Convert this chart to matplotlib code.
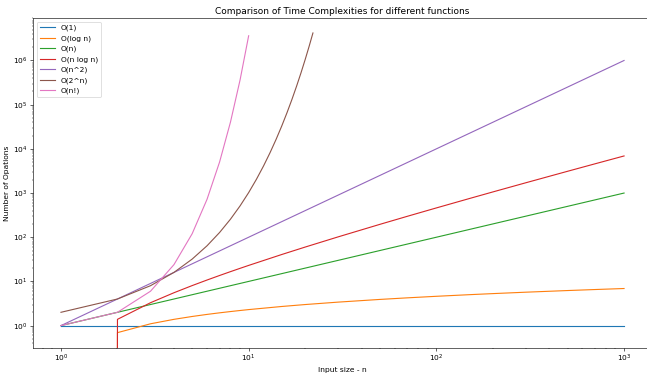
import matplotlib
matplotlib.use("Agg")
import matplotlib.pyplot as plt

# sample points (integer n near the start, sparser later)
n_vals = [1, 2, 3, 4, 5, 6, 7, 8, 9, 10, 15, 20, 30, 50, 70, 100, 150, 200, 300, 500, 700, 1000]

const_vals = [1] * len(n_vals)
log_vals = [0.0, 0.693, 1.099, 1.386, 1.609, 1.792, 1.946, 2.079, 2.197, 2.303, 2.708, 2.996,
            3.401, 3.912, 4.248, 4.605, 5.011, 5.298, 5.704, 6.215, 6.551, 6.908]
lin_vals = [1, 2, 3, 4, 5, 6, 7, 8, 9, 10, 15, 20, 30, 50, 70, 100, 150, 200, 300, 500, 700, 1000]
nlog_vals = [0.0, 1.386, 3.296, 5.545, 8.047, 10.75, 13.62, 16.64, 19.78, 23.03, 40.62, 59.91,
             102.0, 195.6, 297.4, 460.5, 751.6, 1059.7, 1711.1, 3107.3, 4585.9, 6907.8]
sq_vals = [1, 4, 9, 16, 25, 36, 49, 64, 81, 100, 225, 400, 900, 2500, 4900, 10000, 22500,
           40000, 90000, 250000, 490000, 1000000]

exp_n = list(range(1, 23))
exp_vals = [2, 4, 8, 16, 32, 64, 128, 256, 512, 1024, 2048, 4096, 8192, 16384, 32768, 65536,
            131072, 262144, 524288, 1048576, 2097152, 4194304]

fact_n = list(range(1, 11))
fact_vals = [1, 2, 6, 24, 120, 720, 5040, 40320, 362880, 3628800]

fig, ax = plt.subplots(figsize=(12, 6.955), dpi=53.92)

ax.plot(n_vals, const_vals, label="O(1)")
ax.plot(n_vals, log_vals, label="O(log n)")
ax.plot(n_vals, lin_vals, label="O(n)")
ax.plot(n_vals, nlog_vals, label="O(n log n)")
ax.plot(n_vals, sq_vals, label="O(n^2)")
ax.plot(exp_n, exp_vals, label="O(2^n)")
ax.plot(fact_n, fact_vals, label="O(n!)")

ax.set_xscale("log")
ax.set_yscale("log")
ax.set_title("Comparison of Time Complexities for different functions")
ax.set_xlabel("Input size - n")
ax.set_ylabel("Number of Opations")
ax.legend(loc="upper left")

# the original picture is cropped on the right, so the axes run past the edge
fig.subplots_adjust(left=0.0507, right=1.008, bottom=0.073, top=0.952)
fig.savefig("out.png")
